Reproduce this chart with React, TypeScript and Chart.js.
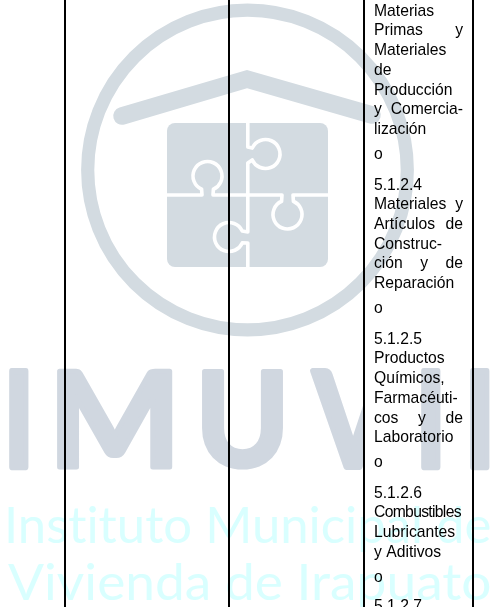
import React, { useEffect, useRef } from "react";
import { Chart, registerables } from "chart.js";

Chart.register(...registerables);

const columnRules = [65, 229, 364, 473];

const cellLines = [
  "Materias", "Primas y", "Materiales", "de", "Producción", "y Comercia-", "lización", "o",
  "5.1.2.4", "Materiales y", "Artículos de", "Construc-", "ción y de", "Reparación", "o",
  "5.1.2.5", "Productos", "Químicos,", "Farmacéuti-", "cos y de", "Laboratorio", "o",
  "5.1.2.6", "Combustibles", "Lubricantes", "y Aditivos", "o", "5.1.2.7",
];
const lineRows = [
  16, 35, 55, 75, 95, 114, 134, 159,
  190, 209, 229, 249, 268, 288, 313,
  344, 363, 383, 403, 423, 442, 467,
  498, 517, 537, 557, 582, 611,
];
const justifiedLines = ["Primas y", "y Comercia-", "Materiales y", "Artículos de", "ción y de", "cos y de"];
const condensedLines = ["Combustibles"];

const watermarkInitials = ["I", "M", "U", "V", "I", "I"];
const watermarkName = ["Instituto Municipal de", "Vivienda de Irapuato"];

const TEXT_FONT = '15.7px "Liberation Sans"';
const TEXT_LEFT = 374;
const TEXT_RIGHT = 463;
const SLATE = "#d3dbe1";
const LETTER = "#d0d7e0";
const AQUA = "#d9ffff";

function fitLetter(ctx: CanvasRenderingContext2D, s: string, x0: number, x1: number, y0: number, y1: number) {
  ctx.save();
  ctx.font = 'bold 140px "Lato"';
  ctx.textBaseline = "alphabetic";
  const m = ctx.measureText(s);
  const w = m.actualBoundingBoxRight + m.actualBoundingBoxLeft;
  const h = m.actualBoundingBoxAscent + m.actualBoundingBoxDescent;
  const inset = 2.5;
  const sx = (x1 - x0 - inset * 2) / w;
  const sy = (y1 - y0 - inset * 2) / h;
  ctx.translate(x0 + inset + m.actualBoundingBoxLeft * sx, y1 - inset - m.actualBoundingBoxDescent * sy);
  ctx.scale(sx, sy);
  ctx.fillStyle = LETTER;
  ctx.strokeStyle = LETTER;
  ctx.lineJoin = "round";
  ctx.lineWidth = 5 / Math.min(sx, sy);
  ctx.fillText(s, 0, 0);
  ctx.strokeText(s, 0, 0);
  ctx.restore();
}

function fitLine(ctx: CanvasRenderingContext2D, s: string, x0: number, x1: number, baseline: number) {
  ctx.save();
  ctx.font = '50px "Lato"';
  ctx.textBaseline = "alphabetic";
  (ctx as any).letterSpacing = "0.01px";
  const m = ctx.measureText(s);
  const w = m.actualBoundingBoxRight + m.actualBoundingBoxLeft;
  const sx = (x1 - x0) / w;
  ctx.translate(x0 + m.actualBoundingBoxLeft * sx, baseline);
  ctx.scale(sx, 1);
  ctx.fillStyle = AQUA;
  ctx.fillText(s, 0, 0);
  ctx.restore();
}

const watermarkPlugin = {
  id: "watermark",
  beforeDraw(chart: any) {
    const ctx: CanvasRenderingContext2D = chart.ctx;
    ctx.save();
    // ring
    ctx.strokeStyle = SLATE;
    ctx.lineWidth = 13.2;
    ctx.beginPath();
    ctx.arc(247.5, 170, 159.8, 0, Math.PI * 2);
    ctx.stroke();
    // roof
    ctx.lineWidth = 17.5;
    ctx.lineCap = "round";
    ctx.lineJoin = "miter";
    ctx.beginPath();
    ctx.moveTo(122, 116);
    ctx.lineTo(247, 79);
    ctx.lineTo(372, 115);
    ctx.stroke();
    // puzzle
    ctx.fillStyle = SLATE;
    ctx.beginPath();
    ctx.roundRect(167, 123, 161, 144, 8);
    ctx.fill();
    ctx.strokeStyle = "#ffffff";
    ctx.lineWidth = 3.6;
    ctx.lineCap = "butt";
    ctx.lineJoin = "round";
    const gap = 0.42;
    const r = 14.5;
    ctx.beginPath();
    ctx.moveTo(247.8, 122);
    ctx.lineTo(247.8, 147);
    ctx.arc(265.5, 154, r, Math.PI + gap, Math.PI - gap + Math.PI * 2);
    ctx.lineTo(247.8, 163);
    ctx.lineTo(247.8, 232);
    ctx.arc(229, 237, r, -gap, gap, true);
    ctx.lineTo(247.8, 243);
    ctx.lineTo(247.8, 268);
    ctx.stroke();
    ctx.beginPath();
    ctx.moveTo(166, 195);
    ctx.lineTo(202, 195);
    ctx.arc(207.5, 176, r, Math.PI / 2 + gap, Math.PI / 2 - gap + Math.PI * 2);
    ctx.lineTo(213, 195);
    ctx.lineTo(282, 195);
    ctx.arc(287.5, 214.5, r, -Math.PI / 2 - gap, -Math.PI / 2 + gap, true);
    ctx.lineTo(293, 195);
    ctx.lineTo(329, 195);
    ctx.stroke();
    ctx.restore();

    // initials, the V is cut where the original one stops
    const boxes = [[9, 29], [57, 173], [202, 283], [310, 396], [421, 441], [470, 490]];
    watermarkInitials.forEach((s, i) => {
      ctx.save();
      if (s === "V") {
        ctx.beginPath();
        ctx.rect(0, 0, 364, 607);
        ctx.clip();
      }
      fitLetter(ctx, s, boxes[i][0], boxes[i][1], 368, 469);
      ctx.restore();
    });
    fitLine(ctx, watermarkName[0], 8, 490, 543);
    fitLine(ctx, watermarkName[1], 8, 490, 600);
  },
  afterDatasetsDraw(chart: any) {
    const ctx: CanvasRenderingContext2D = chart.ctx;
    const pts = chart.getDatasetMeta(0).data;
    ctx.save();
    ctx.font = TEXT_FONT;
    ctx.fillStyle = "#000000";
    ctx.textBaseline = "alphabetic";
    cellLines.forEach((line, i) => {
      const x = pts[i].x;
      const y = pts[i].y;
      (ctx as any).letterSpacing = condensedLines.includes(line) ? "-0.68px" : "0px";
      if (justifiedLines.includes(line)) {
        const words = line.split(" ");
        const total = words.reduce((a, w) => a + ctx.measureText(w).width, 0);
        const space = (TEXT_RIGHT - TEXT_LEFT - total) / (words.length - 1);
        let cx = x;
        words.forEach((w) => {
          ctx.fillText(w, cx, y);
          cx += ctx.measureText(w).width + space;
        });
      } else {
        ctx.fillText(line, x, y);
      }
    });
    ctx.restore();
  },
};

export default function App() {
  const ref = useRef<HTMLCanvasElement>(null);
  useEffect(() => {
    document.body.style.margin = "0";
    const chart = new Chart(ref.current!, {
      type: "scatter",
      data: {
        datasets: [
          {
            label: "cell text",
            data: lineRows.map((y) => ({ x: TEXT_LEFT, y })),
            pointRadius: 0,
            showLine: false,
          },
        ],
      },
      options: {
        animation: false,
        responsive: false,
        layout: { padding: 0 },
        plugins: { legend: { display: false }, tooltip: { enabled: false }, title: { display: false } },
        scales: {
          x: {
            type: "linear",
            min: 0,
            max: 496,
            afterBuildTicks: (axis: any) => {
              axis.ticks = columnRules.map((value) => ({ value }));
            },
            ticks: { display: false },
            border: { display: false },
            grid: { color: "#000000", lineWidth: 2, drawTicks: false },
          },
          y: {
            type: "linear",
            min: 0,
            max: 607,
            reverse: true,
            display: false,
          },
        },
      },
      plugins: [watermarkPlugin],
    } as any);
    return () => chart.destroy();
  }, []);
  return <canvas ref={ref} width={496} height={607} style={{ display: "block" }} />;
}
